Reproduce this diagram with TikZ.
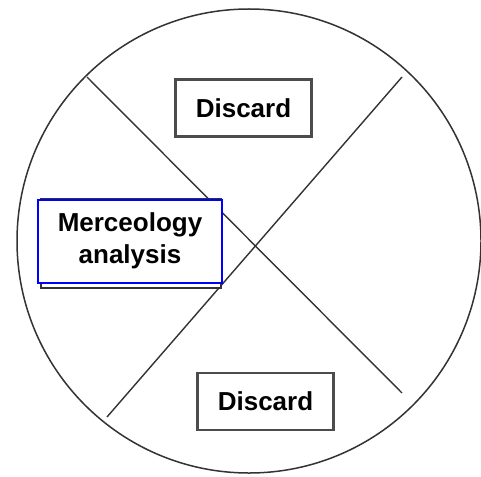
\documentclass[tikz,border=0pt]{standalone}
\usepackage{fontspec}
\setmainfont{Liberation Sans}
\begin{document}
\begin{tikzpicture}[x=1pt,y=-1pt,
  ring/.style={draw=black!80,line width=1.5pt},
  cut/.style={draw=black!80,line width=1.4pt},
  discbox/.style={draw=black!70,line width=2.2pt,fill=white,minimum width=136pt,minimum height=57pt,font=\bfseries\fontsize{26}{31}\selectfont,inner sep=0pt},
  mbox/.style={draw=blue,line width=2pt,fill=white,minimum width=184pt,minimum height=83pt,align=center,font=\bfseries\fontsize{26}{32}\selectfont,inner sep=0pt},
  mshadow/.style={draw=black!80,line width=2pt,fill=white,minimum width=180pt,minimum height=89pt,inner sep=0pt}]
\useasboundingbox (0,0) rectangle (481,476);
\fill[white] (0,0) rectangle (481,476);
\node[ring,circle,minimum size=464pt,inner sep=0pt] (c) at (249,241) {};
\coordinate (a1) at (87,77);
\coordinate (a2) at (402,393);
\coordinate (b1) at (107,417);
\coordinate (b2) at (402,77);
\draw[cut] (a1) -- (a2);
\draw[cut] (b1) -- (b2);
\node[discbox] (d1) at (243.5,108) {Discard};
\node[discbox] (d2) at (265.5,401.5) {Discard};
\node[mshadow] (ms) at (131,243) {};
\node[mbox] (m) at (130,241) {Merceology\\analysis};
\end{tikzpicture}
\end{document}
